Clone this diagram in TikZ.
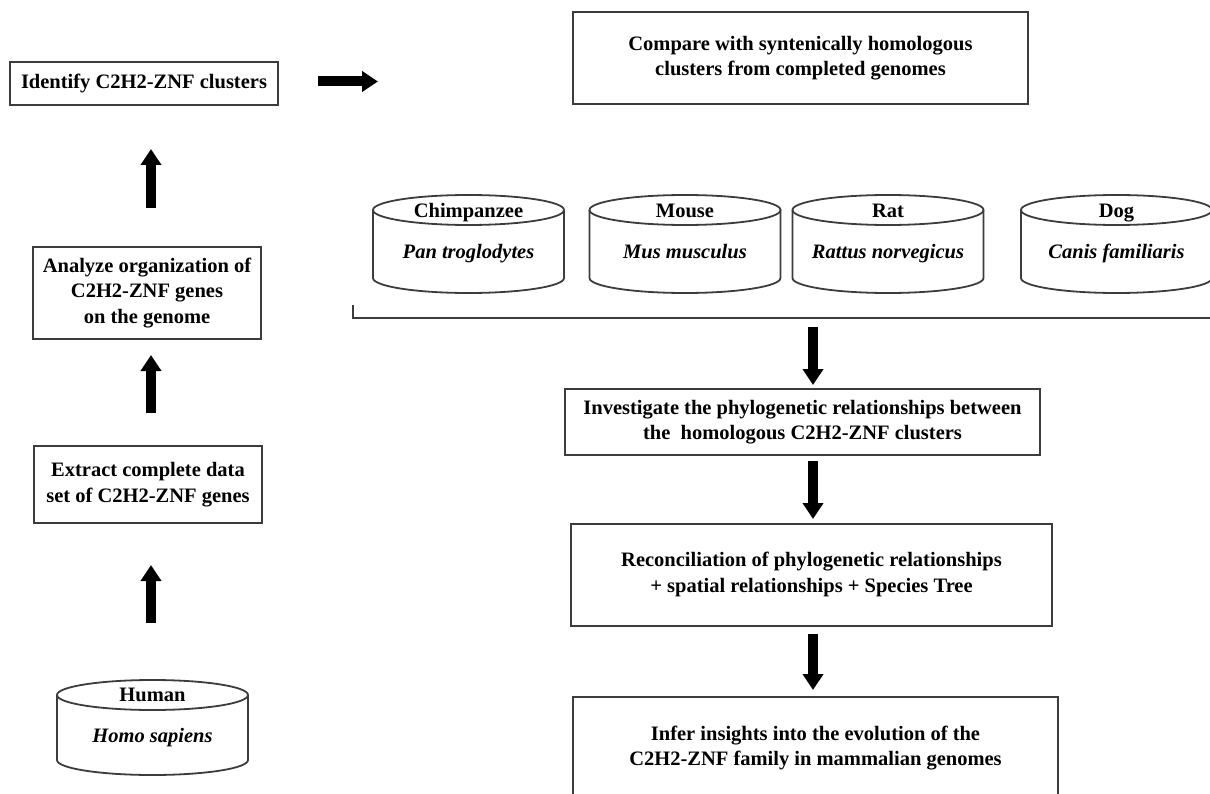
\documentclass[tikz,border=0pt]{standalone}
\usepackage{fontspec}
\setmainfont{Liberation Serif}
\usetikzlibrary{arrows.meta}
\definecolor{edge}{HTML}{3C3C3C}
\newcommand\boxfont{\fontsize{20.5}{25.5}\selectfont\bfseries}
\newcommand\mycyl[5]{%
  \draw[cyl] (#1,#2) ellipse[x radius=#4, y radius=#5];
  \draw[cyl] ({#1-#4},#2) -- ({#1-#4},#3) arc[start angle=180,end angle=0,x radius=#4,y radius=#5] -- ({#1+#4},#2);
}
\tikzset{
  box/.style={draw=edge, line width=2pt, align=center, font=\boxfont, inner sep=0pt},
  cyl/.style={draw=edge, line width=1.8pt},
  fat/.style={line width=10pt, -{Triangle[width=20pt,length=16pt]}, black},
  lab/.style={font=\boxfont, inner sep=0pt, text height=14pt, text depth=4.5pt},
  spec/.style={font=\boxfont\itshape, inner sep=0pt, text height=14pt, text depth=4.5pt}
}
\begin{document}
\begin{tikzpicture}[x=1pt,y=-1pt]
\useasboundingbox (0,0) rectangle (1210,794);
% left column
\node[box, minimum width=268, minimum height=43] (ident) at (144,83.5) {Identify C2H2-ZNF clusters};
\node[box, minimum width=228, minimum height=92] (analyze) at (147,293) {Analyze organization of\\C2H2-ZNF genes\\on the genome};
\node[box, minimum width=228, minimum height=77] (extract) at (148,484.5) {Extract complete data\\set of C2H2-ZNF genes};
% human cylinder
\mycyl{152.5}{695}{760}{95.5}{15}
\node[lab] (human) at (152.5,696.5) {Human};
\node[spec] (homo) at (152.5,738) {Homo sapiens};
% right column
\node[box, minimum width=455, minimum height=92] (compare) at (800.5,58) {Compare with syntenically homologous\\clusters from completed genomes};
\mycyl{468.5}{210}{278}{95.5}{15}
\mycyl{685}{210}{278}{95.5}{15}
\mycyl{888}{210}{278}{95.5}{15}
\mycyl{1116.5}{210}{278}{95.5}{15}
\node[lab] (chimp) at (468.5,213) {Chimpanzee};
\node[spec] (pan) at (468.5,254) {Pan troglodytes};
\node[lab] (mouse) at (685,213) {Mouse};
\node[spec] (mus) at (685,254) {Mus musculus};
\node[lab] (rat) at (888,213) {Rat};
\node[spec] (rattus) at (888,254) {Rattus norvegicus};
\node[lab] (dog) at (1116.5,213) {Dog};
\node[spec] (canis) at (1116.5,254) {Canis familiaris};
\draw[cyl] (353,305) -- (353,318) -- (1212,318);
\node[box, minimum width=475, minimum height=66] (invest) at (802.5,422) {Investigate the phylogenetic relationships between\\the\ \ homologous C2H2-ZNF clusters};
\node[box, minimum width=481, minimum height=102] (recon) at (811.5,574.5) {Reconciliation of phylogenetic relationships\\+ spatial relationships + Species Tree};
\node[box, minimum width=485, minimum height=102] (infer) at (815.5,748) {Infer insights into the evolution of the\\C2H2-ZNF family in mammalian genomes};
% arrows
\coordinate (r1s) at (318,81.5); \coordinate (r1e) at (378,81.5);
\coordinate (u1s) at (151,208); \coordinate (u1e) at (151,149);
\coordinate (u2s) at (151,413); \coordinate (u2e) at (151,355);
\coordinate (u3s) at (151,623); \coordinate (u3e) at (151,565);
\coordinate (d1s) at (813,327); \coordinate (d1e) at (813,385);
\coordinate (d2s) at (813,461); \coordinate (d2e) at (813,519);
\coordinate (d3s) at (813,634); \coordinate (d3e) at (813,690);
\draw[fat] (r1s) -- (r1e);
\draw[fat] (u1s) -- (u1e);
\draw[fat] (u2s) -- (u2e);
\draw[fat] (u3s) -- (u3e);
\draw[fat] (d1s) -- (d1e);
\draw[fat] (d2s) -- (d2e);
\draw[fat] (d3s) -- (d3e);
\end{tikzpicture}
\end{document}
